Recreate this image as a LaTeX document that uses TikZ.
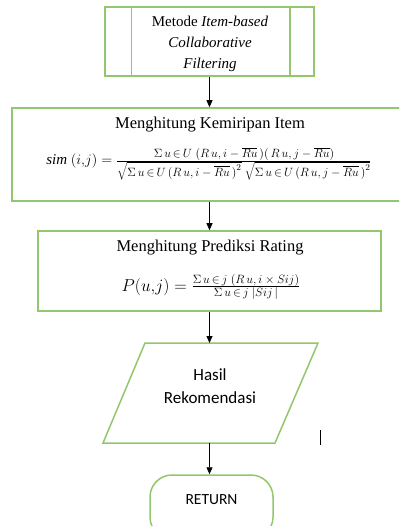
\documentclass[tikz,border=0pt]{standalone}
\usepackage{fontspec}
\setmainfont{Liberation Serif}
\newfontfamily\calib{Carlito}
\usetikzlibrary{arrows.meta,calc}
\definecolor{boxgreen}{RGB}{146,199,108}
\newcommand{\szmath}[2]{\mbox{\fontsize{#1}{#1}\selectfont$#2$}}
\begin{document}
\begin{tikzpicture}[x=1pt,y=-1pt,
  box/.style={draw=boxgreen,line width=1.5pt,fill=white,inner sep=0pt},
  greenline/.style={draw=boxgreen,line width=1.5pt},
  arr/.style={-{Triangle[length=7pt,width=6pt]},line width=0.8pt,black},
  ttl/.style={font=\fontsize{16.5}{20}\selectfont,inner sep=0pt},
  mth/.style={inner sep=0pt,anchor=base},
  sans/.style={font=\calib\fontsize{17}{23}\selectfont,align=center,inner sep=0pt}]
\clip (0,0) rectangle (399,526);
\fill[white] (0,0) rectangle (399,526);
% box 1 (predefined process)
\node[box,minimum width=209pt,minimum height=69pt] (b1) at (209.5,41.5) {};
\draw[greenline] ($(b1.north west)+(27,0)$) -- ($(b1.south west)+(27,0)$);
\draw[greenline] ($(b1.north east)+(-25,0)$) -- ($(b1.south east)+(-25,0)$);
\node[font=\fontsize{15}{21}\selectfont,align=center,inner sep=0pt] (t1) at (210,44)
  {Metode \textit{Item-based}\\\textit{Collaborative}\\\textit{Filtering}};
% box 2
\node[box,minimum width=395pt,minimum height=93pt] (b2) at (209.5,154.5) {};
\node[ttl] (t2) at (210,125) {Menghitung Kemiripan Item};
\node[mth,font=\fontsize{15}{18}\selectfont] (f2) at (209,165)
  {$\mathit{sim}\ (i{,}j) = \frac{\raisebox{1pt}{\szmath{13}{\Sigma\,u\,{\in}\,U\;(R\,u,i-\overline{Ru}\,)(\,R\,u,j-\overline{Ru})}}}
  {\raisebox{-1.5pt}{\szmath{13}{\sqrt{\Sigma\,u\,{\in}\,U\,\bigl(R\,u,i-\overline{Ru}\,\bigr)^2}\;\sqrt{\Sigma\,u\,{\in}\,U\,\bigl(R\,u,j-\overline{Ru}\,\bigr)^2}}}}$};
% box 3
\node[box,minimum width=343pt,minimum height=80pt] (b3) at (209.5,271) {};
\node[ttl] (t3) at (210,248) {Menghitung Prediksi Rating};
\node[mth,font=\fontsize{18}{20}\selectfont] (f3) at (211,291)
  {$P(u{,}j) = \frac{\szmath{12.5}{\Sigma\,u\,{\in}\,j\;(R\,u,i\times Sij)}}{\szmath{12.5}{\Sigma\,u\,{\in}\,j\;|Sij\,|}}$};
% parallelogram
\coordinate (p1) at (145,343);
\coordinate (p2) at (318,343);
\coordinate (p3) at (275,443);
\coordinate (p4) at (103,443);
\coordinate (ptop) at (209.5,343);
\coordinate (pbot) at (209.5,443);
\draw[greenline] (p1) -- (p2) -- (p3) -- (p4) -- cycle;
\node[sans] (out) at (210,386.5) {Hasil\\Rekomendasi};
% terminal
\node[box,rounded corners=22pt,minimum width=123pt,minimum height=64pt] (ret) at (211.5,507) {};
\node[font=\calib\fontsize{15.5}{18}\selectfont,inner sep=0pt] (rett) at (211.5,500) {RETURN};
% stray cursor mark
\coordinate (c1) at (320,430);
\coordinate (c2) at (320,445);
\draw[line width=0.8pt] (c1) -- (c2);
% arrows
\draw[arr] (b1.south) -- (b2.north);
\draw[arr] (b2.south) -- (b3.north);
\draw[arr] (b3.south) -- (ptop);
\draw[arr] (pbot) -- (ret.north -| pbot);
\end{tikzpicture}
\end{document}
